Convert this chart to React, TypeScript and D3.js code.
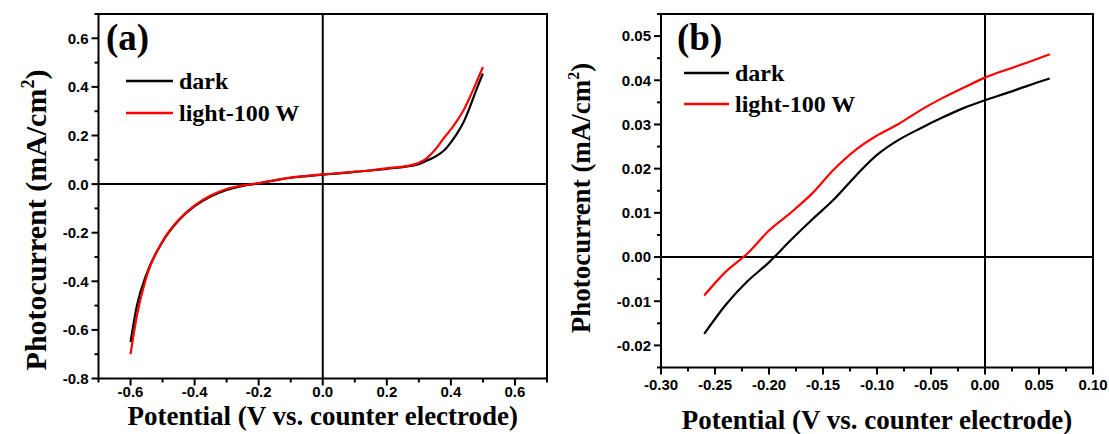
import React from "react";
import * as d3 from "d3";

// Panel (a): full sweep
const potentialA = [-0.6, -0.58, -0.55, -0.5, -0.45, -0.4, -0.35, -0.3, -0.25, -0.2, -0.15, -0.1, -0.05, 0.0, 0.05, 0.1, 0.15, 0.2, 0.25, 0.28, 0.3, 0.32, 0.35, 0.38, 0.4, 0.42, 0.44, 0.46, 0.48, 0.5];
const darkA = [-0.65, -0.5, -0.37, -0.237, -0.15, -0.091, -0.051, -0.024, -0.007, 0.003, 0.015, 0.026, 0.033, 0.039, 0.044, 0.05, 0.056, 0.063, 0.07, 0.076, 0.082, 0.094, 0.112, 0.14, 0.172, 0.21, 0.256, 0.32, 0.39, 0.455];
const lightA = [-0.7, -0.54, -0.38, -0.235, -0.148, -0.088, -0.047, -0.02, -0.005, 0.004, 0.016, 0.027, 0.034, 0.04, 0.045, 0.051, 0.057, 0.065, 0.072, 0.079, 0.088, 0.102, 0.14, 0.193, 0.225, 0.262, 0.305, 0.36, 0.42, 0.482];

// Panel (b): zoom around the zero crossing
const potentialB = [-0.26, -0.24, -0.22, -0.2, -0.18, -0.16, -0.14, -0.12, -0.1, -0.08, -0.06, -0.04, -0.02, 0.0, 0.02, 0.04, 0.06];
const darkB = [-0.0174, -0.0108, -0.0055, -0.0012, 0.0038, 0.0085, 0.013, 0.0183, 0.0231, 0.0265, 0.0291, 0.0315, 0.0337, 0.0355, 0.0371, 0.0388, 0.0404];
const lightB = [-0.0087, -0.0033, 0.0008, 0.006, 0.01, 0.0144, 0.0198, 0.0242, 0.0275, 0.0301, 0.0332, 0.0359, 0.0383, 0.0406, 0.0424, 0.0441, 0.0459];

const seriesNames = ["dark", "light-100 W"];
const seriesColors = ["#000000", "#ff0000"];

const xTicksA = [-0.6, -0.4, -0.2, 0.0, 0.2, 0.4, 0.6];
const xMinorA = [-0.7, -0.5, -0.3, -0.1, 0.1, 0.3, 0.5, 0.7];
const yTicksA = [-0.8, -0.6, -0.4, -0.2, 0.0, 0.2, 0.4, 0.6];
const yMinorA = [-0.7, -0.5, -0.3, -0.1, 0.1, 0.3, 0.5, 0.7];

const xTicksB = [-0.3, -0.25, -0.2, -0.15, -0.1, -0.05, 0.0, 0.05, 0.1];
const xMinorB = [-0.275, -0.225, -0.175, -0.125, -0.075, -0.025, 0.025, 0.075];
const yTicksB = [-0.02, -0.01, 0.0, 0.01, 0.02, 0.03, 0.04, 0.05];
const yMinorB = [-0.025, -0.015, -0.005, 0.005, 0.015, 0.025, 0.035, 0.045, 0.055];

const xTitle = "Potential (V vs. counter electrode)";

const locale = d3.formatLocale({ decimal: ".", thousands: ",", grouping: [3], currency: ["", ""], minus: "-" });

const SERIF = "'Liberation Serif', 'Times New Roman', serif";
const SANS = "'Liberation Sans', Arial, sans-serif";

type PanelProps = {
  box: { left: number; right: number; top: number; bottom: number };
  xDomain: [number, number];
  yDomain: [number, number];
  xTicks: number[];
  xMinor: number[];
  yTicks: number[];
  yMinor: number[];
  fmt: string;
  potential: number[];
  dark: number[];
  light: number[];
  tag: string;
  tagPos: [number, number];
  legend: { x1: number; x2: number; y: number; gap: number };
  yTitlePos: [number, number];
  yTitleSize: number;
  xTitleY: number;
  xTickY: number;
};

function Panel(p: PanelProps) {
  const { box } = p;
  const x = d3.scaleLinear().domain(p.xDomain).range([box.left, box.right]);
  const y = d3.scaleLinear().domain(p.yDomain).range([box.bottom, box.top]);
  const f = locale.format(p.fmt);
  const line = d3
    .line<number>()
    .x((_, i) => x(p.potential[i]))
    .y((d) => y(d))
    .curve(d3.curveMonotoneX);
  const curves = [p.dark, p.light];
  const MAJ = 7;
  const MIN = 4;
  const supSize = Math.round(p.yTitleSize * 0.6);
  const supShift = Math.round(p.yTitleSize * 0.4);
  return (
    <g>
      {/* zero lines */}
      <line x1={box.left} x2={box.right} y1={y(0)} y2={y(0)} stroke="#000" strokeWidth={2} />
      <line x1={x(0)} x2={x(0)} y1={box.top} y2={box.bottom} stroke="#000" strokeWidth={2} />

      {/* curves */}
      {curves.map((c, i) => (
        <path key={i} d={line(c) || ""} fill="none" stroke={seriesColors[i]} strokeWidth={2.2} strokeLinejoin="round" />
      ))}

      {/* frame */}
      <rect x={box.left} y={box.top} width={box.right - box.left} height={box.bottom - box.top} fill="none" stroke="#000" strokeWidth={2} />

      {/* x ticks */}
      {p.xTicks.map((t) => (
        <g key={"xt" + t}>
          <line x1={x(t)} x2={x(t)} y1={box.bottom} y2={box.bottom + MAJ} stroke="#000" strokeWidth={2} />
          <text x={x(t)} y={p.xTickY} textAnchor="middle" fontFamily={SANS} fontWeight="bold" fontSize={15}>
            {f(t)}
          </text>
        </g>
      ))}
      {p.xMinor.map((t) => (
        <line key={"xm" + t} x1={x(t)} x2={x(t)} y1={box.bottom} y2={box.bottom + MIN} stroke="#000" strokeWidth={2} />
      ))}

      {/* y ticks */}
      {p.yTicks.map((t) => (
        <g key={"yt" + t}>
          <line x1={box.left - MAJ} x2={box.left} y1={y(t)} y2={y(t)} stroke="#000" strokeWidth={2} />
          <text x={box.left - 10} y={y(t)} dy="0.36em" textAnchor="end" fontFamily={SANS} fontWeight="bold" fontSize={15}>
            {f(t)}
          </text>
        </g>
      ))}
      {p.yMinor.map((t) => (
        <line key={"ym" + t} x1={box.left - MIN} x2={box.left} y1={y(t)} y2={y(t)} stroke="#000" strokeWidth={2} />
      ))}

      {/* panel tag */}
      <text x={p.tagPos[0]} y={p.tagPos[1]} fontFamily={SERIF} fontWeight="bold" fontSize={37}>
        {p.tag}
      </text>

      {/* legend */}
      {seriesNames.map((name, i) => {
        const ly = p.legend.y + i * p.legend.gap;
        return (
          <g key={name}>
            <line x1={p.legend.x1} x2={p.legend.x2} y1={ly} y2={ly} stroke={seriesColors[i]} strokeWidth={2.5} />
            <text x={p.legend.x2 + 6} y={ly} dy="0.33em" fontFamily={SERIF} fontWeight="bold" fontSize={24}>
              {name}
            </text>
          </g>
        );
      })}

      {/* axis titles */}
      <text x={(box.left + box.right) / 2} y={p.xTitleY} textAnchor="middle" fontFamily={SERIF} fontWeight="bold" fontSize={27}>
        {xTitle}
      </text>
      <text
        transform={`translate(${p.yTitlePos[0]},${p.yTitlePos[1]}) rotate(-90)`}
        textAnchor="middle"
        fontFamily={SERIF}
        fontWeight="bold"
        fontSize={p.yTitleSize}
      >
        Photocurrent (mA/cm<tspan dy={-supShift} fontSize={supSize}>2</tspan>
        <tspan dy={supShift}>)</tspan>
      </text>
    </g>
  );
}

export default function App() {
  return (
    <svg width={1109} height={434} style={{ position: "absolute", left: 0, top: 0, background: "#fff" }}>
      <rect width={1109} height={434} fill="#fff" />
      <Panel
        box={{ left: 98.5, right: 547, top: 14, bottom: 378.5 }}
        xDomain={[-0.7, 0.7]}
        yDomain={[-0.8, 0.7]}
        xTicks={xTicksA}
        xMinor={xMinorA}
        yTicks={yTicksA}
        yMinor={yMinorA}
        fmt=".1f"
        potential={potentialA}
        dark={darkA}
        light={lightA}
        tag="(a)"
        tagPos={[106, 50]}
        legend={{ x1: 126, x2: 173, y: 81, gap: 32 }}
        yTitlePos={[46, 220]}
        yTitleSize={30}
        xTitleY={425}
        xTickY={397}
      />
      <Panel
        box={{ left: 661, right: 1093, top: 14, bottom: 367.5 }}
        xDomain={[-0.3, 0.1]}
        yDomain={[-0.025, 0.055]}
        xTicks={xTicksB}
        xMinor={xMinorB}
        yTicks={yTicksB}
        yMinor={yMinorB}
        fmt=".2f"
        potential={potentialB}
        dark={darkB}
        light={lightB}
        tag="(b)"
        tagPos={[677, 50]}
        legend={{ x1: 684, x2: 729, y: 73, gap: 31 }}
        yTitlePos={[590, 198]}
        yTitleSize={27}
        xTitleY={429}
        xTickY={390}
      />
    </svg>
  );
}
